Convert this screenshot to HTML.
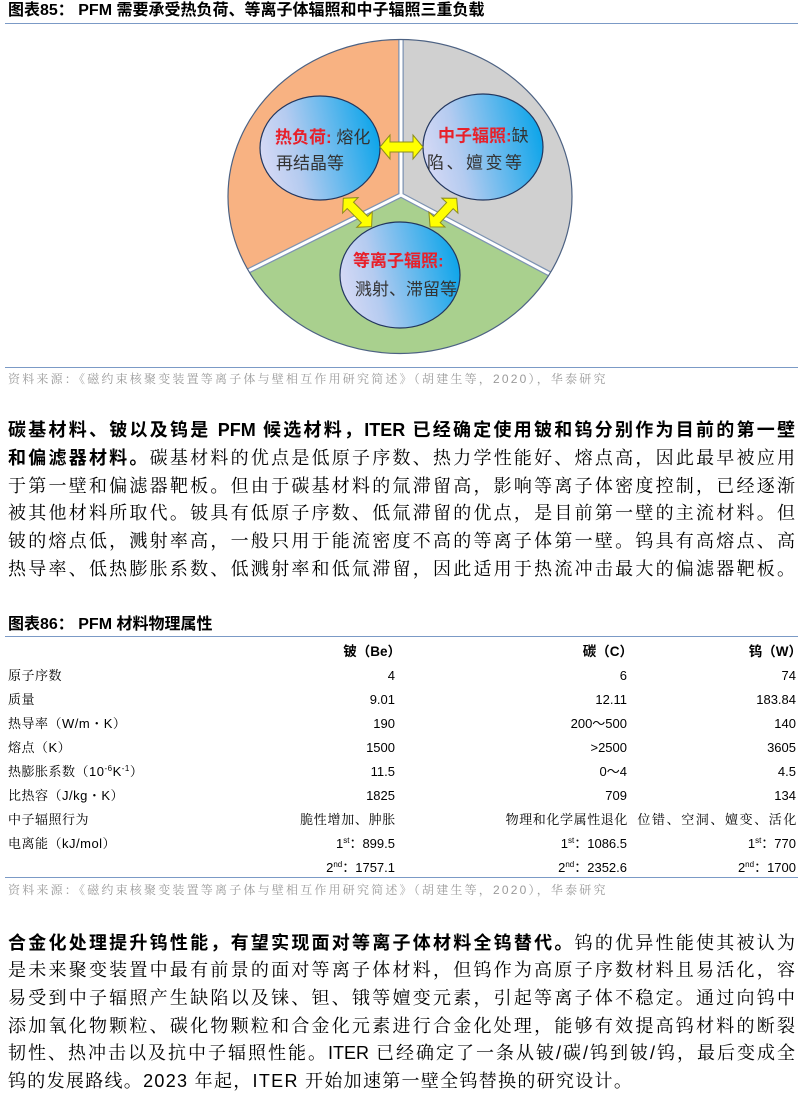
<!DOCTYPE html>
<html><head><meta charset="utf-8">
<style>
*{margin:0;padding:0;box-sizing:border-box}
html,body{width:802px;height:1097px;background:#fff;overflow:hidden}
body{position:relative;font-family:"Liberation Sans","Noto Sans CJK SC",sans-serif;color:#000}
.a{position:absolute;white-space:nowrap}
.ttl{position:absolute;left:8px;font-weight:bold;font-size:16px;line-height:20px;white-space:nowrap;font-family:"Liberation Sans","Noto Sans CJK SC",sans-serif}
.hr{position:absolute;left:5px;width:793px;height:1.5px;background:#7b9ac6}
.src{position:absolute;left:8px;font-family:"Liberation Sans","Noto Serif CJK SC",serif;font-size:12px;color:#9a9a9a;letter-spacing:2.2px;line-height:16px;white-space:nowrap}
.p{position:absolute;left:8px;width:787px;height:27.7px;line-height:27.7px;font-size:18px;font-family:"Liberation Sans","Noto Serif CJK SC",serif;text-align:justify;text-align-last:justify}
.p b{font-family:"Liberation Sans","Noto Sans CJK SC",sans-serif;font-weight:bold}
.pl{text-align:left;text-align-last:left;letter-spacing:1.3px}
.r{position:absolute;left:0;width:802px;height:24px;line-height:24px;font-size:13px}
.r div{position:absolute;top:0;white-space:nowrap}
.lb{left:8px;font-family:"Liberation Sans","Noto Serif CJK SC",serif;letter-spacing:.5px}
.c1{left:150px;width:245px;text-align:right}
.c2{left:400px;width:227px;text-align:right}
.c3{left:600px;width:196px;text-align:right}
.cj{font-family:"Liberation Sans","Noto Serif CJK SC",serif}
.hd{font-weight:bold;font-size:13.5px;font-family:"Liberation Sans","Noto Sans CJK SC",sans-serif}
sup{font-size:8px;vertical-align:5px;line-height:0}
</style></head><body>

<div class="ttl" style="top:1px">图表85： PFM 需要承受热负荷、等离子体辐照和中子辐照三重负载</div>
<div class="hr" style="top:22.5px"></div>

<svg class="a" style="left:0;top:0" width="802" height="370" viewBox="0 0 802 370">
<defs>
<clipPath id="ce"><ellipse cx="400" cy="196.5" rx="172" ry="157"/></clipPath>
<linearGradient id="g" x1="0" y1="0.65" x2="1" y2="0.45">
<stop offset="0" stop-color="#d8daf5"/><stop offset="0.3" stop-color="#b4cbf0"/><stop offset="1" stop-color="#0ea5ea"/>
</linearGradient>
</defs>
<g clip-path="url(#ce)">
<rect x="220" y="30" width="360" height="330" fill="#a9d08e"/>
<polygon points="401,195 401,30 220,30 220,285" fill="#f8b282"/>
<polygon points="401,195 401,30 580,30 580,290" fill="#d0d0d0"/>
<path d="M401,195 V30 M401,195 L220,285 M401,195 L580,290" stroke="#7d93b2" stroke-width="5.5" fill="none"/>
<path d="M401,195 V30 M401,195 L220,285 M401,195 L580,290" stroke="#ffffff" stroke-width="3" fill="none"/>
</g>
<ellipse cx="400" cy="196.5" rx="172" ry="157" fill="none" stroke="#4d6283" stroke-width="1.2"/>

<ellipse cx="320" cy="148" rx="60" ry="52" fill="url(#g)" stroke="#22365e" stroke-width="1.2"/>
<ellipse cx="483" cy="147" rx="60" ry="53" fill="url(#g)" stroke="#22365e" stroke-width="1.2"/>
<ellipse cx="400" cy="275" rx="60" ry="53" fill="url(#g)" stroke="#22365e" stroke-width="1.2"/>

<g fill="#ffff00" stroke="#8c8c1e" stroke-width="1">
<path d="M380,147 L390,135 L390,142 L413,142 L413,135 L423,147 L413,159 L413,152 L390,152 L390,159 Z"/>
<path transform="translate(343.3,198.3) rotate(45)" d="M0,0 L10,-11 L10,-4.5 L30,-4.5 L30,-11 L40,0 L30,11 L30,4.5 L10,4.5 L10,11 Z"/>
<path transform="translate(456.7,198.3) rotate(133)" d="M0,0 L10,-11 L10,-4.5 L29,-4.5 L29,-11 L39,0 L29,11 L29,4.5 L10,4.5 L10,11 Z"/>
</g>

<g font-family="Liberation Sans, Noto Sans CJK SC, sans-serif" font-size="17" fill="#333">
<text x="275" y="143"><tspan fill="#e8202a" font-weight="bold">热负荷:</tspan> 熔化</text>
<text x="276" y="169">再结晶等</text>
<text x="438" y="141.5"><tspan fill="#e8202a" font-weight="bold">中子辐照:</tspan>缺</text>
<text x="427" y="168.5" textLength="95" lengthAdjust="spacing">陷、嬗变等</text>
<text x="353" y="266.5" fill="#e8202a" font-weight="bold">等离子辐照:</text>
<text x="355" y="295">溅射、滞留等</text>
</g>
</svg>

<div class="hr" style="top:366.5px"></div>
<div class="src" style="top:371px">资料来源：《磁约束核聚变装置等离子体与壁相互作用研究简述》（胡建生等，2020），华泰研究</div>

<div class="p" style="top:417.2px"><b>碳基材料、铍以及钨是 PFM 候选材料，ITER 已经确定使用铍和钨分别作为目前的第一壁</b></div>
<div class="p" style="top:444.9px"><b>和偏滤器材料。</b>碳基材料的优点是低原子序数、热力学性能好、熔点高，因此最早被应用</div>
<div class="p" style="top:472.6px">于第一壁和偏滤器靶板。但由于碳基材料的氚滞留高，影响等离子体密度控制，已经逐渐</div>
<div class="p" style="top:500.3px">被其他材料所取代。铍具有低原子序数、低氚滞留的优点，是目前第一壁的主流材料。但</div>
<div class="p" style="top:528px">铍的熔点低，溅射率高，一般只用于能流密度不高的等离子体第一壁。钨具有高熔点、高</div>
<div class="p" style="top:555.7px">热导率、低热膨胀系数、低溅射率和低氚滞留，因此适用于热流冲击最大的偏滤器靶板。</div>

<div class="ttl" style="top:615px">图表86： PFM 材料物理属性</div>
<div class="hr" style="top:635.5px"></div>

<div class="r" style="top:640px"><div class="c1 hd" style="left:156px">铍（Be）</div><div class="c2 hd" style="left:406px">碳（C）</div><div class="c3 hd" style="left:606px">钨（W）</div></div>
<div class="r" style="top:664px"><div class="lb">原子序数</div><div class="c1">4</div><div class="c2">6</div><div class="c3">74</div></div>
<div class="r" style="top:688px"><div class="lb">质量</div><div class="c1">9.01</div><div class="c2">12.11</div><div class="c3">183.84</div></div>
<div class="r" style="top:712px"><div class="lb">热导率（W/m・K）</div><div class="c1">190</div><div class="c2">200～500</div><div class="c3">140</div></div>
<div class="r" style="top:736px"><div class="lb">熔点（K）</div><div class="c1">1500</div><div class="c2">&gt;2500</div><div class="c3">3605</div></div>
<div class="r" style="top:760px"><div class="lb">热膨胀系数（10<sup>-6</sup>K<sup>-1</sup>）</div><div class="c1">11.5</div><div class="c2">0～4</div><div class="c3">4.5</div></div>
<div class="r" style="top:784px"><div class="lb">比热容（J/kg・K）</div><div class="c1">1825</div><div class="c2">709</div><div class="c3">134</div></div>
<div class="r" style="top:808px"><div class="lb">中子辐照行为</div><div class="c1 cj" style="letter-spacing:.7px;left:151px">脆性增加、肿胀</div><div class="c2 cj" style="letter-spacing:.6px;left:401px">物理和化学属性退化</div><div class="c3 cj" style="letter-spacing:1.6px;left:602px">位错、空洞、嬗变、活化</div></div>
<div class="r" style="top:832px"><div class="lb">电离能（kJ/mol）</div><div class="c1">1<sup>st</sup>：899.5</div><div class="c2">1<sup>st</sup>：1086.5</div><div class="c3">1<sup>st</sup>：770</div></div>
<div class="r" style="top:856px"><div class="c1">2<sup>nd</sup>：1757.1</div><div class="c2">2<sup>nd</sup>：2352.6</div><div class="c3">2<sup>nd</sup>：1700</div></div>
<div class="hr" style="top:876.5px"></div>
<div class="src" style="top:882px">资料来源：《磁约束核聚变装置等离子体与壁相互作用研究简述》（胡建生等，2020），华泰研究</div>

<div class="p" style="top:929.5px"><b>合金化处理提升钨性能，有望实现面对等离子体材料全钨替代。</b>钨的优异性能使其被认为</div>
<div class="p" style="top:957.2px">是未来聚变装置中最有前景的面对等离子体材料，但钨作为高原子序数材料且易活化，容</div>
<div class="p" style="top:984.9px">易受到中子辐照产生缺陷以及铼、钽、锇等嬗变元素，引起等离子体不稳定。通过向钨中</div>
<div class="p" style="top:1012.6px">添加氧化物颗粒、碳化物颗粒和合金化元素进行合金化处理，能够有效提高钨材料的断裂</div>
<div class="p" style="top:1040.3px">韧性、热冲击以及抗中子辐照性能。ITER 已经确定了一条从铍/碳/钨到铍/钨，最后变成全</div>
<div class="p pl" style="top:1068px">钨的发展路线。2023 年起，ITER 开始加速第一壁全钨替换的研究设计。</div>

</body></html>
